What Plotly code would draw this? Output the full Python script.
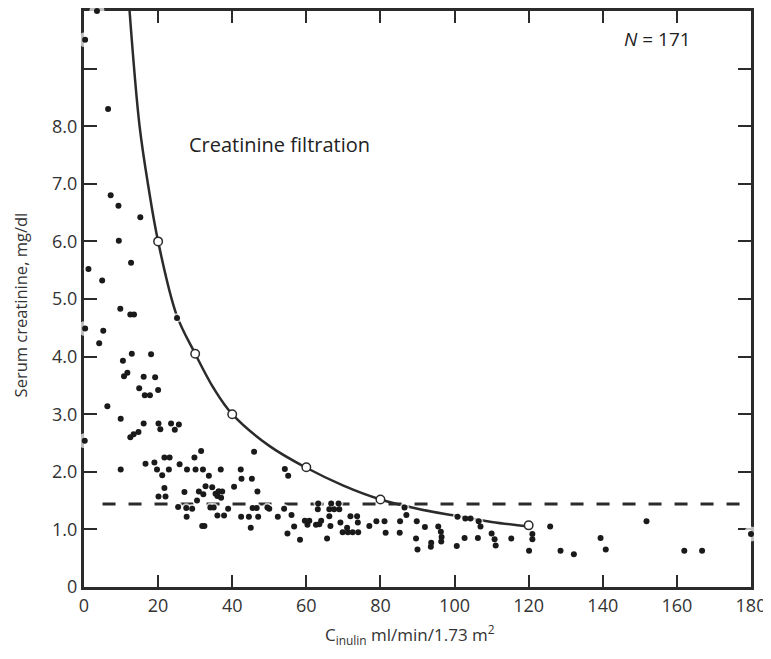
import plotly.graph_objects as go

# ---- data ----
scatter_x = [3.5, 0.3, 6.5, 7.2, 9.3, 15.2, 9.4, 12.7, 1.2, 4.9,
             9.8, 12.5, 13.5, 0.3, 5.2, 4.1, 25.1, 12.9, 18.1, 10.5,
             11.7, 10.8, 16.1, 19.2, 14.9, 20.0, 16.4, 17.8, 6.3, 9.9,
             16.1, 20.1, 20.6, 23.5, 25.6, 24.5, 14.7, 13.4, 12.5, 0.2,
             9.9, 16.6, 19.0, 19.7, 21.1, 21.7, 23.1, 22.9, 25.8, 27.8,
             21.7, 20.1, 22.0, 27.1, 25.4, 27.7, 31.6, 29.8, 30.1, 32.1,
             36.9, 42.3, 45.9, 33.7, 42.5, 45.3, 54.2, 55.1, 31.0, 32.8,
             34.6, 36.4, 37.3, 36.0, 37.0, 35.5, 32.2, 40.5, 46.8, 30.5,
             27.6, 29.2, 34.1, 35.0, 36.0, 37.8, 38.9, 42.4, 45.5, 44.5,
             47.0, 45.0, 50.0, 52.3, 54.0, 54.9, 31.9, 32.5, 46.6, 49.5,
             56.0, 56.7, 58.3, 59.6, 60.3, 60.8, 62.6, 63.5, 64.0, 63.2,
             63.1, 66.5, 66.2, 66.7, 68.7, 66.2, 67.5, 65.6, 69.2, 71.0,
             71.9, 73.7, 73.9, 69.8, 71.2, 72.5, 74.0, 68.9, 77.0, 78.9,
             81.1, 81.4, 85.2, 85.3, 86.5, 87.0, 89.8, 92.0, 89.6, 90.0,
             93.6, 93.7, 95.6, 96.3, 96.5, 96.4, 100.6, 100.8, 102.9, 104.3,
             102.7, 106.3, 106.5, 107.0, 110.0, 110.8, 111.1, 115.3, 121.0, 121.0,
             120.1, 125.8, 128.6, 132.2, 139.4, 140.8, 151.8, 162.0, 166.8, 180.0,
             36.3]
scatter_y = [10.0, 9.5, 8.3, 6.8, 6.62, 6.42, 6.01, 5.63, 5.52, 5.32,
             4.83, 4.73, 4.73, 4.49, 4.45, 4.23, 4.67, 4.05, 4.04, 3.93,
             3.72, 3.66, 3.65, 3.64, 3.45, 3.42, 3.33, 3.33, 3.14, 2.92,
             2.84, 2.84, 2.74, 2.84, 2.82, 2.73, 2.69, 2.65, 2.60, 2.54,
             2.04, 2.14, 2.16, 2.04, 1.94, 2.25, 2.25, 2.04, 2.13, 2.04,
             1.72, 1.57, 1.57, 1.65, 1.39, 1.22, 2.36, 2.25, 2.04, 2.04,
             2.04, 2.04, 2.35, 1.93, 1.88, 1.88, 2.05, 1.93, 1.66, 1.75,
             1.73, 1.66, 1.66, 1.58, 1.55, 1.62, 1.61, 1.74, 1.66, 1.50,
             1.37, 1.36, 1.38, 1.38, 1.24, 1.24, 1.36, 1.22, 1.37, 1.22,
             1.22, 1.03, 1.36, 1.22, 1.36, 0.93, 1.06, 1.06, 1.37, 1.38,
             1.25, 1.05, 0.82, 1.15, 1.08, 1.15, 1.08, 1.09, 1.15, 1.45,
             1.35, 1.06, 1.23, 1.45, 1.45, 1.35, 1.35, 0.84, 1.12, 1.03,
             1.23, 1.23, 1.12, 0.95, 0.95, 0.95, 0.95, 1.35, 1.06, 1.14,
             1.14, 0.94, 0.94, 1.14, 1.38, 1.25, 1.14, 1.04, 0.84, 0.65,
             0.70, 0.77, 1.05, 0.96, 0.87, 0.79, 0.71, 1.22, 1.19, 1.19,
             0.85, 0.85, 1.14, 1.05, 0.93, 0.83, 0.72, 0.84, 0.92, 0.83,
             0.63, 1.05, 0.63, 0.57, 0.85, 0.65, 1.14, 0.63, 0.63, 0.92,
             1.66]

curve_x = [12.3, 15, 17.5, 20, 25, 30, 35, 40, 50, 60, 70, 80, 90, 100, 110, 120]
curve_y = [10.0, 8.0, 6.9, 6.0, 4.72, 4.05, 3.45, 3.0, 2.45, 2.07, 1.76, 1.52, 1.36, 1.24, 1.13, 1.05]

circle_x = [20, 30, 40, 60, 80, 120]
circle_y = [6.0, 4.05, 3.0, 2.08, 1.52, 1.07]

threshold_y = 1.44
threshold_x = [5, 180]

x_ticks = [0, 20, 40, 60, 80, 100, 120, 140, 160, 180]
y_ticks = [0, 1, 2, 3, 4, 5, 6, 7, 8, 9]
y_ticklabels = ["0", "1.0", "2.0", "3.0", "4.0", "5.0", "6.0", "7.0", "8.0", ""]

INK = "#2b2b2b"
TXT = "#333333"
FONT = "Open Sans"

fig = go.Figure()

# dashed reference line
fig.add_trace(go.Scatter(x=threshold_x, y=[threshold_y, threshold_y], mode="lines",
                         line=dict(color=INK, width=3, dash="13px,13px"),
                         hoverinfo="skip", showlegend=False))
# filtration curve
fig.add_trace(go.Scatter(x=curve_x, y=curve_y, mode="lines",
                         line=dict(color=INK, width=2.5, shape="spline", smoothing=1.0),
                         hoverinfo="skip", showlegend=False, cliponaxis=True))
# white halos behind dots
halo_sizes = [15 if (xv < 1 or xv > 179 or yv > 9.9) else 9.5 for xv, yv in zip(scatter_x, scatter_y)]
fig.add_trace(go.Scatter(x=scatter_x, y=scatter_y, mode="markers",
                         marker=dict(color="white", size=halo_sizes, line=dict(width=0)),
                         hoverinfo="skip", showlegend=False, cliponaxis=False))
# data dots
fig.add_trace(go.Scatter(x=scatter_x, y=scatter_y, mode="markers",
                         marker=dict(color="#1a1a1a", size=6, line=dict(width=0)),
                         showlegend=False, cliponaxis=False))
# open circles on the curve
fig.add_trace(go.Scatter(x=circle_x, y=circle_y, mode="markers",
                         marker=dict(color="white", size=8.5, line=dict(color=INK, width=1.5)),
                         showlegend=False, cliponaxis=False))

axis_common = dict(showgrid=False, zeroline=False, showline=True, linecolor=INK, linewidth=3,
                   mirror="allticks", ticks="inside", tickcolor=INK, tickwidth=2,
                   layer="below traces", tickfont=dict(family=FONT, size=18, color=TXT))

fig.update_xaxes(range=[0, 180], tickvals=x_ticks, ticktext=[str(v) for v in x_ticks],
                 ticklen=12, **axis_common)
fig.update_yaxes(range=[0, 10], tickvals=y_ticks, ticktext=y_ticklabels,
                 ticklen=13, **axis_common)

# page body has an 8px offset, so the figure is sized/margined to compensate
fig.update_layout(
    width=763, height=643,
    margin=dict(l=76, r=20, t=0, b=64),
    plot_bgcolor="white", paper_bgcolor="white",
    font=dict(family=FONT, color=TXT),
    annotations=[
        dict(text="Serum creatinine, mg/dl", textangle=-90, xref="paper", yref="paper",
             x=-0.095, y=0.49, xanchor="center", yanchor="middle", showarrow=False,
             font=dict(family=FONT, size=16.5, color=TXT)),
        dict(text="C<sub>inulin</sub> ml/min/1.73 m<sup>2</sup>", xref="paper", yref="paper",
             x=0.489, y=-0.083, xanchor="center", yanchor="middle", showarrow=False,
             font=dict(family=FONT, size=17, color=TXT)),
        dict(text="Creatinine filtration", xref="x", yref="y", x=27.9, y=7.68,
             xanchor="left", yanchor="middle", showarrow=False,
             font=dict(family=FONT, size=20, color="#222222")),
        dict(text="<i>N</i> = 171", xref="x", yref="y", x=145.2, y=9.52,
             xanchor="left", yanchor="middle", showarrow=False,
             font=dict(family=FONT, size=19, color="#222222")),
    ],
)

fig.write_html("out.html")
